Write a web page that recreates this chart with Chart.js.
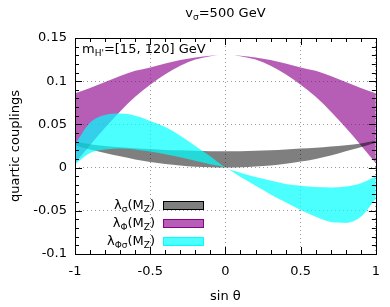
<!DOCTYPE html>
<html>
<head>
<meta charset="utf-8">
<script src="https://cdn.jsdelivr.net/npm/chart.js@4.4.0/dist/chart.umd.min.js"></script>
<style>
    html, body { margin: 0; padding: 0; background: #fff; }
</style>
</head>
<body>
<canvas id="couplingsChart" width="390" height="307"></canvas>
<script>
// sin(theta) grid
var sinTheta = [-1, -0.9, -0.8, -0.7, -0.6, -0.5, -0.4, -0.3, -0.2, -0.1, 0,
                0.1, 0.2, 0.3, 0.4, 0.5, 0.6, 0.7, 0.8, 0.9, 1];

// lambda_sigma(MZ) band
var lamSigmaHigh = [0.0295, 0.027, 0.025, 0.0235, 0.0225, 0.0215, 0.0205, 0.020, 0.0195, 0.019, 0.019,
                    0.019, 0.0195, 0.020, 0.021, 0.022, 0.023, 0.0245, 0.026, 0.028, 0.031];
var lamSigmaLow = [0.026, 0.021, 0.017, 0.013, 0.0095, 0.0065, 0.0042, 0.0023, 0.001, 0.0003, 0,
                   0.0003, 0.0012, 0.0025, 0.0045, 0.007, 0.010, 0.014, 0.019, 0.0235, 0.029];

// lambda_Phi(MZ) band
var lamPhiHigh = [0.086, 0.092, 0.099, 0.106, 0.112, 0.116, 0.1205, 0.1245, 0.1275, 0.1295, 0.1305,
                  0.1295, 0.1275, 0.1245, 0.1205, 0.116, 0.112, 0.106, 0.099, 0.092, 0.086];
var lamPhiLow = [0.005, 0.026, 0.046, 0.065, 0.082, 0.096, 0.108, 0.118, 0.125, 0.129, 0.1305,
                 0.129, 0.125, 0.118, 0.108, 0.096, 0.082, 0.065, 0.046, 0.026, 0.005];

// lambda_Phisigma(MZ) band
var lamPhiSigmaHigh = [0.027, 0.052, 0.061, 0.0625, 0.060, 0.054, 0.047, 0.037, 0.025, 0.013, 0,
                       -0.006, -0.011, -0.015, -0.019, -0.021, -0.0225, -0.023, -0.022, -0.018, -0.010];
var lamPhiSigmaLow = [0.004, 0.017, 0.021, 0.022, 0.021, 0.0185, 0.0155, 0.012, 0.008, 0.004, 0,
                      -0.011, -0.021, -0.031, -0.040, -0.049, -0.057, -0.063, -0.064, -0.057, -0.036];

var xTicks = [-1, -0.5, 0, 0.5, 1];
var xTickLabels = ['-1', '-0.5', '0', '0.5', '1'];
var yTicks = [-0.1, -0.05, 0, 0.05, 0.1, 0.15];
var yTickLabels = ['-0.1', '-0.05', '0', '0.05', '0.1', '0.15'];

var FONT = '"DejaVu Sans", sans-serif';

function toPoints(values) {
    return values.map(function (v, i) { return { x: sinTheta[i], y: v }; });
}

function band(high, low, fillColor, order) {
    return [{
        data: toPoints(high),
        borderWidth: 0,
        pointRadius: 0,
        cubicInterpolationMode: 'monotone',
        backgroundColor: fillColor,
        fill: '+1',
        order: order
    }, {
        data: toPoints(low),
        borderWidth: 0,
        pointRadius: 0,
        cubicInterpolationMode: 'monotone',
        fill: false,
        order: order
    }];
}

// text with subscripts: parts = [[text, isSub], ...]
function drawRich(ctx, parts, x, y, align) {
    var big = '13px ' + FONT, small = '9px ' + FONT;
    var total = 0;
    parts.forEach(function (p) {
        ctx.font = p[1] ? small : big;
        total += ctx.measureText(p[0]).width;
    });
    var cx = align === 'right' ? x - total : (align === 'center' ? x - total / 2 : x);
    ctx.textAlign = 'left';
    ctx.textBaseline = 'alphabetic';
    parts.forEach(function (p) {
        ctx.font = p[1] ? small : big;
        ctx.fillText(p[0], cx, p[1] ? y + 3 : y);
        cx += ctx.measureText(p[0]).width;
    });
}

var decorPlugin = {
    id: 'decor',
    afterDraw: function (chart) {
        var ctx = chart.ctx;
        var a = chart.chartArea;
        var xs = chart.scales.x, ys = chart.scales.y;
        ctx.save();
        ctx.strokeStyle = '#000';
        ctx.fillStyle = '#000';
        ctx.lineWidth = 1;

        // frame
        ctx.strokeRect(Math.round(a.left) + 0.5, Math.round(a.top) + 0.5,
            Math.round(a.right - a.left), Math.round(a.bottom - a.top));

        // ticks on all four sides, minor ones in between
        ctx.beginPath();
        for (var i = 0; i <= 20; i++) {
            var xv = -1 + i * 0.1;
            var len = (i % 5 === 0) ? 7 : 4;
            var px = Math.round(xs.getPixelForValue(xv)) + 0.5;
            ctx.moveTo(px, a.bottom); ctx.lineTo(px, a.bottom - len);
            ctx.moveTo(px, a.top); ctx.lineTo(px, a.top + len);
        }
        for (var j = 0; j <= 25; j++) {
            var yv = -0.1 + j * 0.01;
            var ylen = (j % 5 === 0) ? 7 : 4;
            var py = Math.round(ys.getPixelForValue(yv)) + 0.5;
            ctx.moveTo(a.left, py); ctx.lineTo(a.left + ylen, py);
            ctx.moveTo(a.right, py); ctx.lineTo(a.right - ylen, py);
        }
        ctx.stroke();

        // title and annotation
        drawRich(ctx, [['v', false], ['σ', true], ['=500 GeV', false]], (a.left + a.right) / 2, 17, 'center');
        drawRich(ctx, [['m', false], ["H'", true], ['=[15, 120] GeV', false]], 82, 53, 'left');

        // axis titles
        ctx.font = '13px ' + FONT;
        ctx.textAlign = 'center';
        ctx.textBaseline = 'middle';
        ctx.fillText('sin θ', (a.left + a.right) / 2, 297);
        ctx.save();
        ctx.translate(16, (a.top + a.bottom) / 2);
        ctx.rotate(-Math.PI / 2);
        ctx.fillText('quartic couplings', 0, 0);
        ctx.restore();

        // legend
        var rows = [
            { parts: [['λ', false], ['σ', true], ['(M', false], ['Z', true], [')', false]], fill: 'rgba(0,0,0,0.5)', stroke: '#000', y: 205 },
            { parts: [['λ', false], ['Φ', true], ['(M', false], ['Z', true], [')', false]], fill: 'rgba(139,0,139,0.63)', stroke: '#8b008b', y: 223 },
            { parts: [['λ', false], ['Φσ', true], ['(M', false], ['Z', true], [')', false]], fill: 'rgba(0,255,255,0.7)', stroke: '#00ffff', y: 241 }
        ];
        rows.forEach(function (r) {
            drawRich(ctx, r.parts, 155, r.y + 4, 'right');
            ctx.fillStyle = r.fill;
            ctx.fillRect(163, r.y - 4, 40, 9);
            ctx.strokeStyle = r.stroke;
            ctx.strokeRect(163.5, r.y - 3.5, 40, 8);
            ctx.fillStyle = '#000';
        });
        ctx.restore();
    }
};

var datasets = []
    .concat(band(lamPhiHigh, lamPhiLow, 'rgba(139,0,139,0.63)', 3))
    .concat(band(lamSigmaHigh, lamSigmaLow, 'rgba(0,0,0,0.5)', 2))
    .concat(band(lamPhiSigmaHigh, lamPhiSigmaLow, 'rgba(0,255,255,0.7)', 1));

var chart = new Chart(document.getElementById('couplingsChart'), {
    type: 'line',
    data: { datasets: datasets },
    options: {
        responsive: false,
        animation: false,
        layout: { padding: { left: 0, right: 13, top: 38, bottom: 0 } },
        plugins: {
            legend: { display: false },
            tooltip: { enabled: false },
            filler: { propagate: false }
        },
        scales: {
            x: {
                type: 'linear',
                min: -1,
                max: 1,
                afterBuildTicks: function (scale) {
                    scale.ticks = xTicks.map(function (v) { return { value: v }; });
                },
                afterFit: function (scale) { scale.height = 53; },
                ticks: {
                    color: '#000',
                    padding: 10,
                    maxRotation: 0,
                    font: { family: FONT, size: 13 },
                    callback: function (v, i) { return xTickLabels[i]; }
                },
                grid: { color: '#999', lineWidth: 1, drawTicks: false },
                border: { display: false, dash: [1, 3] }
            },
            y: {
                type: 'linear',
                min: -0.1,
                max: 0.15,
                afterBuildTicks: function (scale) {
                    scale.ticks = yTicks.map(function (v) { return { value: v }; });
                },
                afterFit: function (scale) { scale.width = 75; },
                ticks: {
                    color: '#000',
                    padding: 8,
                    font: { family: FONT, size: 13 },
                    callback: function (v, i) { return yTickLabels[i]; }
                },
                grid: { color: '#999', lineWidth: 1, drawTicks: false },
                border: { display: false, dash: [1, 3] }
            }
        }
    },
    plugins: [decorPlugin]
});
</script>
</body>
</html>
